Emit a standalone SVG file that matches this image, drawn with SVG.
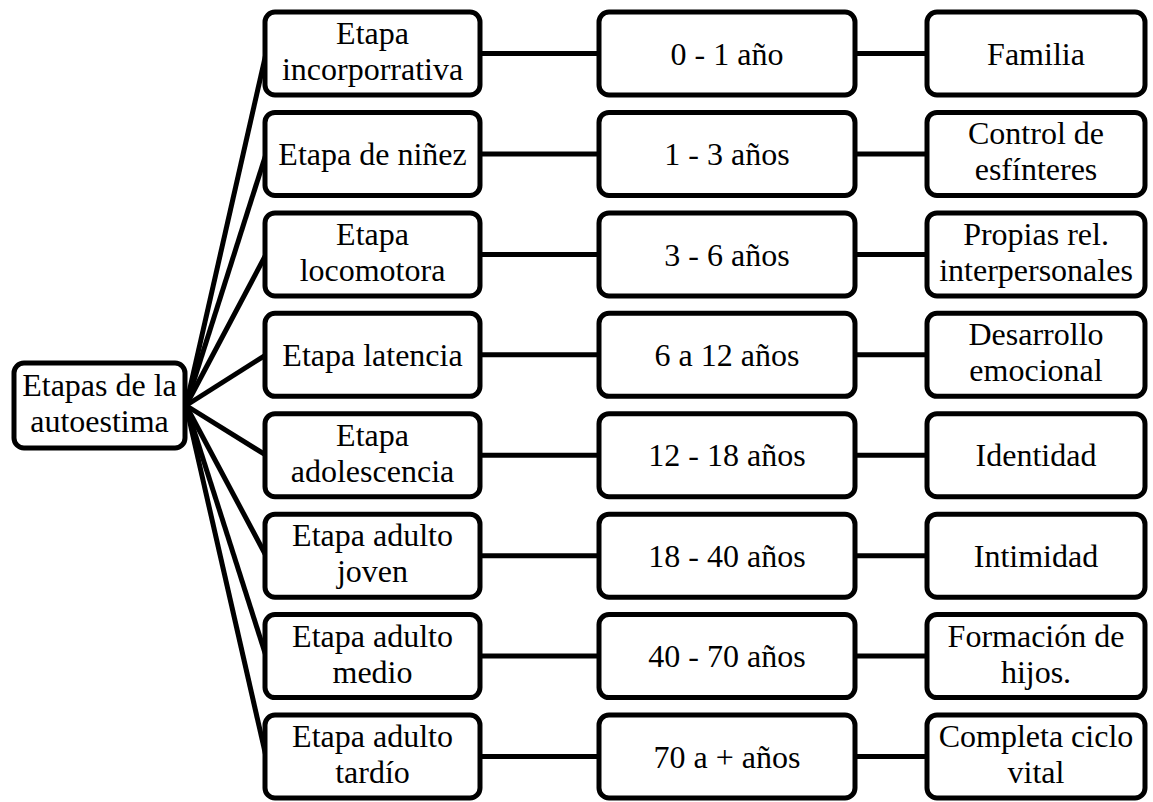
<svg xmlns="http://www.w3.org/2000/svg" width="1153" height="802" viewBox="0 0 1153 802">
<style>
.box{fill:#fff;stroke:#000;stroke-width:5}
.t{font-family:"Liberation Serif","Times New Roman",serif;font-size:32px;fill:#000;text-anchor:middle}
.c{stroke:#000;stroke-width:5;fill:none}
</style>
<rect width="1153" height="802" fill="#fff"/>
<g id="connectors">
<line class="c" x1="186" y1="405.5" x2="266" y2="53.5"/>
<line class="c" x1="186" y1="405.5" x2="266" y2="153.9"/>
<line class="c" x1="186" y1="405.5" x2="266" y2="254.4"/>
<line class="c" x1="186" y1="405.5" x2="266" y2="354.8"/>
<line class="c" x1="186" y1="405.5" x2="266" y2="455.2"/>
<line class="c" x1="186" y1="405.5" x2="266" y2="555.7"/>
<line class="c" x1="186" y1="405.5" x2="266" y2="656.1"/>
<line class="c" x1="186" y1="405.5" x2="266" y2="756.5"/>
<line class="c" x1="480" y1="53.5" x2="599" y2="53.5"/>
<line class="c" x1="480" y1="153.9" x2="599" y2="153.9"/>
<line class="c" x1="480" y1="254.4" x2="599" y2="254.4"/>
<line class="c" x1="480" y1="354.8" x2="599" y2="354.8"/>
<line class="c" x1="480" y1="455.2" x2="599" y2="455.2"/>
<line class="c" x1="480" y1="555.7" x2="599" y2="555.7"/>
<line class="c" x1="480" y1="656.1" x2="599" y2="656.1"/>
<line class="c" x1="480" y1="756.5" x2="599" y2="756.5"/>
<line class="c" x1="855" y1="53.5" x2="927" y2="53.5"/>
<line class="c" x1="855" y1="153.9" x2="927" y2="153.9"/>
<line class="c" x1="855" y1="254.4" x2="927" y2="254.4"/>
<line class="c" x1="855" y1="354.8" x2="927" y2="354.8"/>
<line class="c" x1="855" y1="455.2" x2="927" y2="455.2"/>
<line class="c" x1="855" y1="555.7" x2="927" y2="555.7"/>
<line class="c" x1="855" y1="656.1" x2="927" y2="656.1"/>
<line class="c" x1="855" y1="756.5" x2="927" y2="756.5"/>
</g>
<g id="root">
<rect class="box" x="14" y="363" width="171" height="85" rx="10"/>
<text class="t" x="99.5" y="396">Etapas de la</text>
<text class="t" x="99.5" y="432">autoestima</text>
</g>
<g id="s1">
<rect class="box" x="265" y="12" width="215" height="83" rx="10"/>
<text class="t" x="372.5" y="44">Etapa</text>
<text class="t" x="372.5" y="80">incorporrativa</text>
</g>
<g id="s2">
<rect class="box" x="265" y="112.4" width="215" height="83" rx="10"/>
<text class="t" x="372.5" y="165">Etapa de niñez</text>
</g>
<g id="s3">
<rect class="box" x="265" y="212.9" width="215" height="83" rx="10"/>
<text class="t" x="372.5" y="244.9">Etapa</text>
<text class="t" x="372.5" y="280.9">locomotora</text>
</g>
<g id="s4">
<rect class="box" x="265" y="313.3" width="215" height="83" rx="10"/>
<text class="t" x="372.5" y="366">Etapa latencia</text>
</g>
<g id="s5">
<rect class="box" x="265" y="413.7" width="215" height="83" rx="10"/>
<text class="t" x="372.5" y="445.7">Etapa</text>
<text class="t" x="372.5" y="481.7">adolescencia</text>
</g>
<g id="s6">
<rect class="box" x="265" y="514.2" width="215" height="83" rx="10"/>
<text class="t" x="372.5" y="546.2">Etapa adulto</text>
<text class="t" x="372.5" y="582.2">joven</text>
</g>
<g id="s7">
<rect class="box" x="265" y="614.6" width="215" height="83" rx="10"/>
<text class="t" x="372.5" y="646.6">Etapa adulto</text>
<text class="t" x="372.5" y="682.6">medio</text>
</g>
<g id="s8">
<rect class="box" x="265" y="715" width="215" height="83" rx="10"/>
<text class="t" x="372.5" y="747">Etapa adulto</text>
<text class="t" x="372.5" y="783">tardío</text>
</g>
<g id="a1">
<rect class="box" x="599" y="12" width="256" height="83" rx="10"/>
<text class="t" x="727" y="64.5">0 - 1 año</text>
</g>
<g id="a2">
<rect class="box" x="599" y="112.4" width="256" height="83" rx="10"/>
<text class="t" x="727" y="165">1 - 3 años</text>
</g>
<g id="a3">
<rect class="box" x="599" y="212.9" width="256" height="83" rx="10"/>
<text class="t" x="727" y="265.5">3 - 6 años</text>
</g>
<g id="a4">
<rect class="box" x="599" y="313.3" width="256" height="83" rx="10"/>
<text class="t" x="727" y="366">6 a 12 años</text>
</g>
<g id="a5">
<rect class="box" x="599" y="413.7" width="256" height="83" rx="10"/>
<text class="t" x="727" y="466.3">12 - 18 años</text>
</g>
<g id="a6">
<rect class="box" x="599" y="514.2" width="256" height="83" rx="10"/>
<text class="t" x="727" y="566.8">18 - 40 años</text>
</g>
<g id="a7">
<rect class="box" x="599" y="614.6" width="256" height="83" rx="10"/>
<text class="t" x="727" y="667.2">40 - 70 años</text>
</g>
<g id="a8">
<rect class="box" x="599" y="715" width="256" height="83" rx="10"/>
<text class="t" x="727" y="767.6">70 a + años</text>
</g>
<g id="f1">
<rect class="box" x="927" y="12" width="218" height="83" rx="10"/>
<text class="t" x="1036" y="64.5">Familia</text>
</g>
<g id="f2">
<rect class="box" x="927" y="112.4" width="218" height="83" rx="10"/>
<text class="t" x="1036" y="144.4">Control de</text>
<text class="t" x="1036" y="180.4">esfínteres</text>
</g>
<g id="f3">
<rect class="box" x="927" y="212.9" width="218" height="83" rx="10"/>
<text class="t" x="1036" y="244.9">Propias rel.</text>
<text class="t" x="1036" y="280.9">interpersonales</text>
</g>
<g id="f4">
<rect class="box" x="927" y="313.3" width="218" height="83" rx="10"/>
<text class="t" x="1036" y="345.3">Desarrollo</text>
<text class="t" x="1036" y="381.3">emocional</text>
</g>
<g id="f5">
<rect class="box" x="927" y="413.7" width="218" height="83" rx="10"/>
<text class="t" x="1036" y="466.3">Identidad</text>
</g>
<g id="f6">
<rect class="box" x="927" y="514.2" width="218" height="83" rx="10"/>
<text class="t" x="1036" y="566.8">Intimidad</text>
</g>
<g id="f7">
<rect class="box" x="927" y="614.6" width="218" height="83" rx="10"/>
<text class="t" x="1036" y="646.6">Formación de</text>
<text class="t" x="1036" y="682.6">hijos.</text>
</g>
<g id="f8">
<rect class="box" x="927" y="715" width="218" height="83" rx="10"/>
<text class="t" x="1036" y="747">Completa ciclo</text>
<text class="t" x="1036" y="783">vital</text>
</g>
</svg>
